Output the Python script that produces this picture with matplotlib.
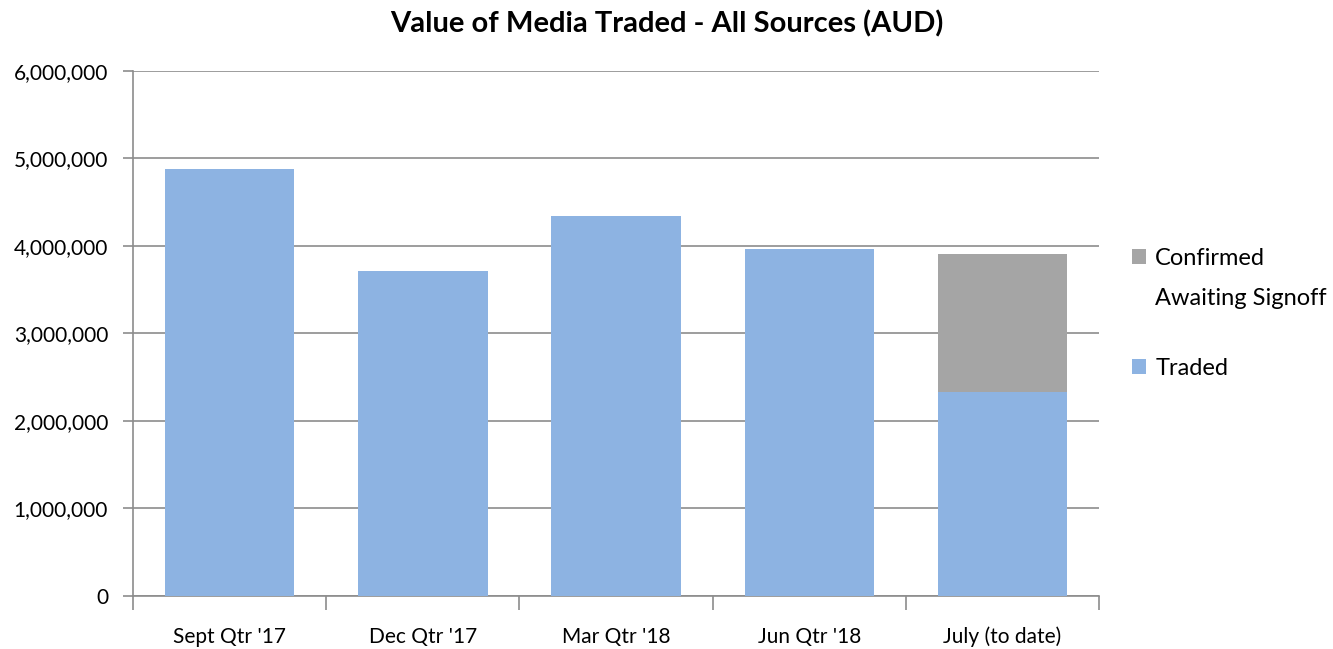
import numpy as np
import matplotlib.pyplot as plt
from matplotlib.ticker import FuncFormatter, MultipleLocator

# data
categories = ["Sept Qtr '17", "Dec Qtr '17", "Mar Qtr '18", "Jun Qtr '18", "July (to date)"]
traded = [4880000, 3710000, 4340000, 3960000, 2330000]
awaiting = [0, 0, 0, 0, 1580000]

plt.rcParams['font.family'] = ['Lato', 'DejaVu Sans']

fig = plt.figure(figsize=(13.33, 6.49), dpi=100)
ax = fig.add_axes([0.0998, 0.0817, 0.7247, 0.8089])

x = np.arange(len(categories))
w = 0.67
blue = '#8db3e2'
grey = '#a5a5a5'
b1 = ax.bar(x, traded, w, color=blue, label='Traded', zorder=3)
b2 = ax.bar(x[-1:], awaiting[-1:], w, bottom=traded[-1:], color=grey,
            label='Confirmed', zorder=3)

ax.set_xlim(-0.5, len(categories) - 0.5)
ax.set_ylim(0, 6000000)
ax.yaxis.set_major_locator(MultipleLocator(1000000))
ax.yaxis.set_major_formatter(FuncFormatter(lambda v, p: '{:,.0f}'.format(v)))
ax.grid(axis='y', color='#8c8c8c', lw=1.2, zorder=0)

ax.set_xticks(x)
ax.set_xticklabels(categories)
ax.set_xticks(np.arange(len(categories) + 1) - 0.5, minor=True)
ax.tick_params(axis='x', which='major', length=0, pad=22, labelsize=15)
ax.tick_params(axis='x', which='minor', length=10, color='#8c8c8c', width=1.2)
ax.tick_params(axis='y', length=7, color='#8c8c8c', width=1.2, labelsize=15, pad=11)

for s in ['top', 'right']:
    ax.spines[s].set_visible(False)
for s in ['left', 'bottom']:
    ax.spines[s].set_color('#8c8c8c')
    ax.spines[s].set_linewidth(1.2)

fig.text(0.5005, 1 - 24 / 649, 'Value of Media Traded - All Sources (AUD)',
         fontsize=21, fontweight='bold', ha='center', va='center')

leg = fig.legend(handles=[b2, b1], loc='upper left', bbox_to_anchor=(0.840, 0.636),
                 frameon=False, fontsize=17, handlelength=0.6, handleheight=0.6,
                 handletextpad=0.4, labelspacing=3.75, borderpad=0)

# second line of the grey series label, placed under "Confirmed"
fig.canvas.draw()
bb = leg.get_texts()[0].get_window_extent().transformed(fig.transFigure.inverted())
fig.text(bb.x0, bb.y0 - 40 / 649 + (bb.y1 - bb.y0) / 2, 'Awaiting Signoff',
         fontsize=17, va='center', ha='left')

fig.savefig('out.png', dpi=100)
